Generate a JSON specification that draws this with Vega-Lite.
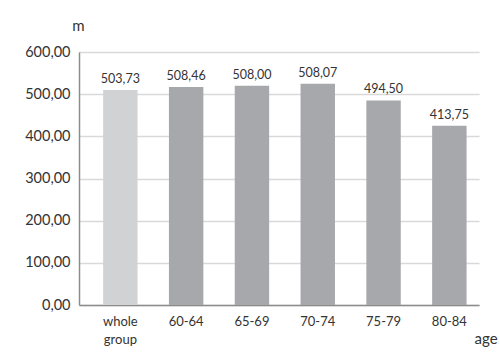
{
  "$schema": "https://vega.github.io/schema/vega-lite/v6.json",
  "width": 400,
  "height": 253,
  "autosize": {"type": "none"},
  "padding": {"left": 79, "top": 52, "right": 21, "bottom": 55},
  "background": "white",
  "config": {
    "font": "Lato",
    "locale": {"number": {"decimal": ",", "thousands": ".", "grouping": [3], "currency": ["", " €"]}},
    "view": {"stroke": null},
    "axis": {"labelFont": "Lato", "titleFont": "Lato", "labelColor": "#333333", "titleColor": "#333333", "labelFontSize": 13, "titleFontSize": 15, "titleFontWeight": "normal"}
  },
  "data": {
    "values": [
      {"age": "whole group", "value": 510, "label": 503.73, "group": "all"},
      {"age": "60-64", "value": 517, "label": 508.46, "group": "age"},
      {"age": "65-69", "value": 520, "label": 508.00, "group": "age"},
      {"age": "70-74", "value": 525, "label": 508.07, "group": "age"},
      {"age": "75-79", "value": 485, "label": 494.50, "group": "age"},
      {"age": "80-84", "value": 425, "label": 413.75, "group": "age"}
    ]
  },
  "encoding": {
    "x": {
      "field": "age", "type": "nominal", "sort": null,
      "scale": {"paddingInner": 0.477, "paddingOuter": 0.278, "align": 0.66},
      "axis": {
        "title": "age", "titleX": 395, "titleY": 33, "titleAlign": "left", "titleBaseline": "middle", "titleAnchor": null,
        "labelAngle": 0, "ticks": false, "labelPadding": 10, "labelExpr": "split(datum.label, ' ')", "labelLineHeight": 18,
        "domainColor": "#8c8c8c", "domainWidth": 1.5, "grid": false
      }
    },
    "y": {
      "field": "value", "type": "quantitative",
      "scale": {"domain": [0, 600], "nice": false},
      "axis": {
        "title": "m", "titleAngle": 0, "titleX": -1, "titleY": -27, "titleAlign": "center", "titleBaseline": "middle", "titleAnchor": null,
        "values": [0, 100, 200, 300, 400, 500, 600], "format": ".2f", "labelFontSize": 14.5,
        "ticks": false, "labelPadding": 9, "domainColor": "#8c8c8c", "domainWidth": 1.5,
        "grid": true, "gridColor": "#d9d9d9", "gridWidth": 1.5
      }
    }
  },
  "layer": [
    {
      "mark": {"type": "bar"},
      "encoding": {
        "color": {"field": "group", "type": "nominal", "scale": {"domain": ["all", "age"], "range": ["#d1d2d4", "#a7a8ab"]}, "legend": null}
      }
    },
    {
      "mark": {"type": "text", "baseline": "alphabetic", "dy": -7, "fontSize": 12.5, "color": "#333333", "font": "Lato"},
      "encoding": {
        "text": {"field": "label", "type": "quantitative", "format": ".2f"}
      }
    }
  ]
}
